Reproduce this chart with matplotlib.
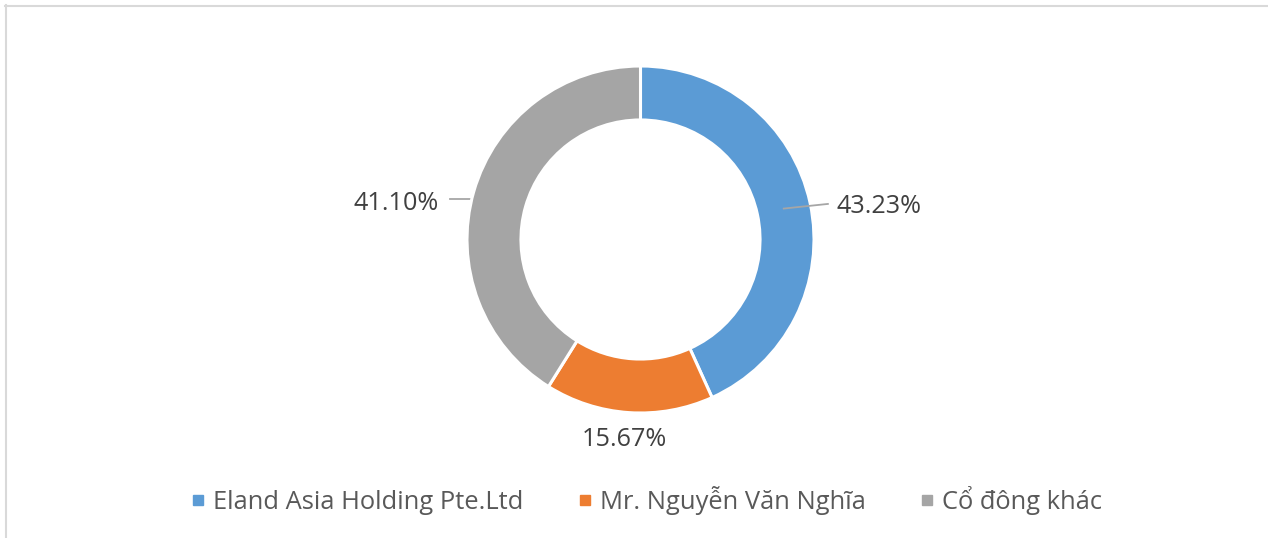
import numpy as np
import matplotlib
matplotlib.use("Agg")
import matplotlib.pyplot as plt
from matplotlib.lines import Line2D

plt.rcParams['font.family'] = ['Open Sans', 'DejaVu Sans']

# Dữ liệu cơ cấu cổ đông
labels = ['Eland Asia Holding Pte.Ltd', 'Mr. Nguyễn Văn Nghĩa', 'Cổ đông khác']
values = [43.23, 15.67, 41.10]
colors = ['#5b9bd5', '#ed7d31', '#a5a5a5']

W, H = 1268, 538
fig = plt.figure(figsize=(W / 100, H / 100), dpi=100)

# Vị trí vòng tròn (pixel)
cx, cy, R = 640.5, 239.5, 173.5
ax = fig.add_axes([(cx - R) / W, 1 - (cy + R) / H, 2 * R / W, 2 * R / H])

ring = 0.311
wedges, _ = ax.pie(values, colors=colors, startangle=90, counterclock=False,
                   radius=1, wedgeprops=dict(width=ring, edgecolor='white', linewidth=2.2))
ax.set_xlim(-1, 1)
ax.set_ylim(-1, 1)
ax.set_aspect('equal')
ax.axis('off')

# Nhãn phần trăm: vị trí (x, y, căn lề) tính trong toạ độ của trục
label_pos = [(1.127, 0.153, 'left'), (-0.095, -1.190, 'center'), (-1.161, 0.170, 'right')]
for w, v, (lx, ly, ha) in zip(wedges, values, label_pos):
    ax.text(lx, ly, f'{v:.2f}%', ha=ha, va='baseline', fontsize=18.2,
            color='#404040', clip_on=False)

# Đường dẫn nhãn
th0 = np.deg2rad((wedges[0].theta1 + wedges[0].theta2) / 2)
r_mid = 1 - ring / 2
ax.plot([r_mid * np.cos(th0), 1.08], [r_mid * np.sin(th0), 0.205],
        color='#a6a6a6', lw=1.3, clip_on=False)
ax.plot([-0.972, -1.098], [0.233, 0.233], color='#a6a6a6', lw=1.3,
        clip_on=False, zorder=0)

# Chú thích
handles = [Line2D([], [], marker='s', linestyle='none', markersize=7.3,
                  markerfacecolor=c, markeredgecolor=c) for c in colors]
fig.legend(handles, labels, loc='center', bbox_to_anchor=(0.5106, 0.0706),
           ncol=3, frameon=False, fontsize=18.4, handlelength=0.4,
           handletextpad=0.4, columnspacing=2.2, labelcolor='#595959')

# Khung viền
fig.add_artist(Line2D([5 / W, 1], [1 - 6 / H, 1 - 6 / H], color='#d9d9d9', lw=1.5))
fig.add_artist(Line2D([6 / W, 6 / W], [0, 1 - 5 / H], color='#d9d9d9', lw=1.5))

fig.savefig('out.png', dpi=100)
